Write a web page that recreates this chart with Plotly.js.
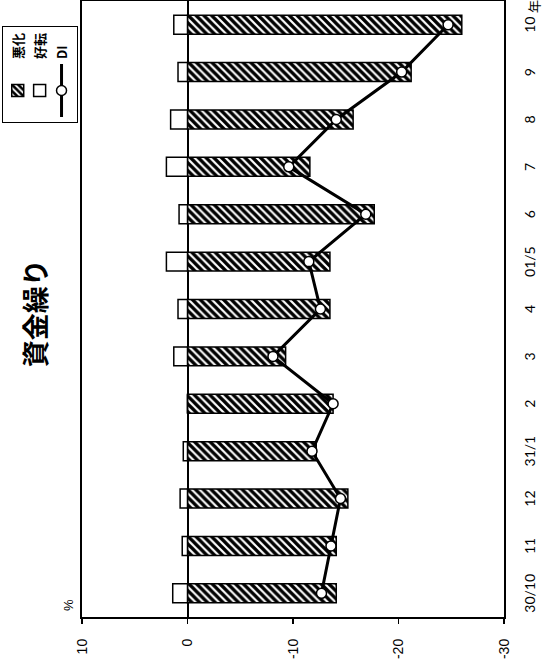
<!DOCTYPE html>
<html>
<head>
<meta charset="utf-8">
<script src="https://cdn.plot.ly/plotly-3.0.1.min.js"></script>
<style>
html,body{margin:0;padding:0;background:#fff;overflow:hidden;width:543px;height:661px;}
#wrap{position:absolute;left:0;top:0;width:661px;height:543px;transform-origin:0 0;transform:translate(0,661px) rotate(-90deg);}
#chart{width:661px;height:543px;}
</style>
</head>
<body>
<div id="wrap"><div id="chart"></div></div>
<script>
// Data
const categories = ['30/10','11','12','31/1','2','3','4','01/5','6','7','8','9','10'];
const worsen  = [-14.1, -14.1, -15.2, -12.2, -13.8, -9.3, -13.5, -13.5, -17.7, -11.6, -15.7, -21.2, -26.0];
const improve = [1.4, 0.5, 0.7, 0.4, 0, 1.3, 0.9, 2.0, 0.8, 2.0, 1.6, 0.9, 1.3];
const di      = [-12.7, -13.6, -14.5, -11.8, -13.8, -8.1, -12.6, -11.5, -16.9, -9.6, -14.1, -20.3, -24.7];
const yTickVals   = [-30, -20, -10, 0, 10];
const yTickLabels = ['-30', '-20', '-10', '0', '10'];

const catRange = [-0.5, categories.length - 0.5];
const boundaries = categories.map((c, i) => i - 0.5).concat([categories.length - 0.5]);

const traces = [
  {
    type: 'bar', name: '<b>悪化</b>', x: categories, y: worsen, legendgroup: 'a',
    marker: {
      color: 'white',
      pattern: {shape: '/', fgcolor: 'black', bgcolor: 'white', size: 5.5, solidity: 0.6},
      line: {color: 'black', width: 1.5}
    }
  },
  {
    type: 'bar', name: '<b>好転</b>', x: categories, y: improve, legendgroup: 'b',
    marker: {color: 'white', line: {color: 'black', width: 1.5}}
  },
  {
    type: 'scatter', mode: 'lines+markers', name: '<b>DI</b>', x: categories, y: di, legendgroup: 'c',
    line: {color: 'black', width: 3},
    marker: {symbol: 'circle', size: 10, color: 'white', line: {color: 'black', width: 1.5}}
  }
];

const layout = {
  width: 661, height: 543,
  margin: {l: 44, r: 1, t: 82, b: 39, autoexpand: false},
  paper_bgcolor: 'white', plot_bgcolor: 'white',
  barmode: 'relative', bargap: 0.6,
  showlegend: true,
  title: {
    text: '<b>資金繰り</b>',
    font: {family: 'Noto Sans CJK JP', size: 27, color: 'black'},
    xref: 'container', x: 0.526, xanchor: 'center',
    yref: 'container', y: 0.933, yanchor: 'middle'
  },
  xaxis: {
    type: 'category', range: catRange,
    showline: true, linecolor: 'black', linewidth: 2, mirror: true,
    ticks: '', showgrid: false, zeroline: false,
    tickfont: {family: 'Lato', size: 14, color: 'black'},
    ticklabelstandoff: 12
  },
  xaxis2: {
    overlaying: 'x', anchor: 'free', position: 0.75,
    range: catRange,
    tickmode: 'array', tickvals: boundaries,
    ticks: 'inside', ticklen: 4, tickcolor: 'black', tickwidth: 1,
    showticklabels: false, showline: false, showgrid: false, zeroline: false
  },
  yaxis: {
    range: [-30, 10], tickmode: 'array', tickvals: yTickVals, ticktext: yTickLabels,
    showline: true, linecolor: 'black', linewidth: 2, mirror: 'ticks',
    ticks: 'outside', ticklen: 5, tickcolor: 'black', tickwidth: 1.5,
    showgrid: false, zeroline: true, zerolinecolor: 'black', zerolinewidth: 2,
    tickfont: {family: 'Liberation Sans', size: 14, color: 'black'},
    ticklabelstandoff: 12
  },
  legend: {
    x: 0.802, xanchor: 'left', y: 1.01, yanchor: 'bottom',
    bordercolor: 'black', borderwidth: 1, bgcolor: 'white',
    font: {family: 'Noto Sans CJK JP', size: 13, color: 'black'},
    traceorder: 'grouped', tracegroupgap: 2, itemwidth: 53
  },
  annotations: [
    {text: '%', xref: 'paper', yref: 'paper', x: 0.0195, y: 1.031, xanchor: 'center', yanchor: 'middle',
     showarrow: false, font: {family: 'Liberation Sans', size: 13, color: 'black'}},
    {text: '年', xref: 'paper', yref: 'paper', x: 0.977, y: -0.069, xanchor: 'left', yanchor: 'middle',
     showarrow: false, font: {family: 'Noto Sans CJK JP', size: 13, color: 'black'}}
  ]
};

Plotly.newPlot('chart', traces, layout, {displayModeBar: false, staticPlot: true});
</script>
</body>
</html>
